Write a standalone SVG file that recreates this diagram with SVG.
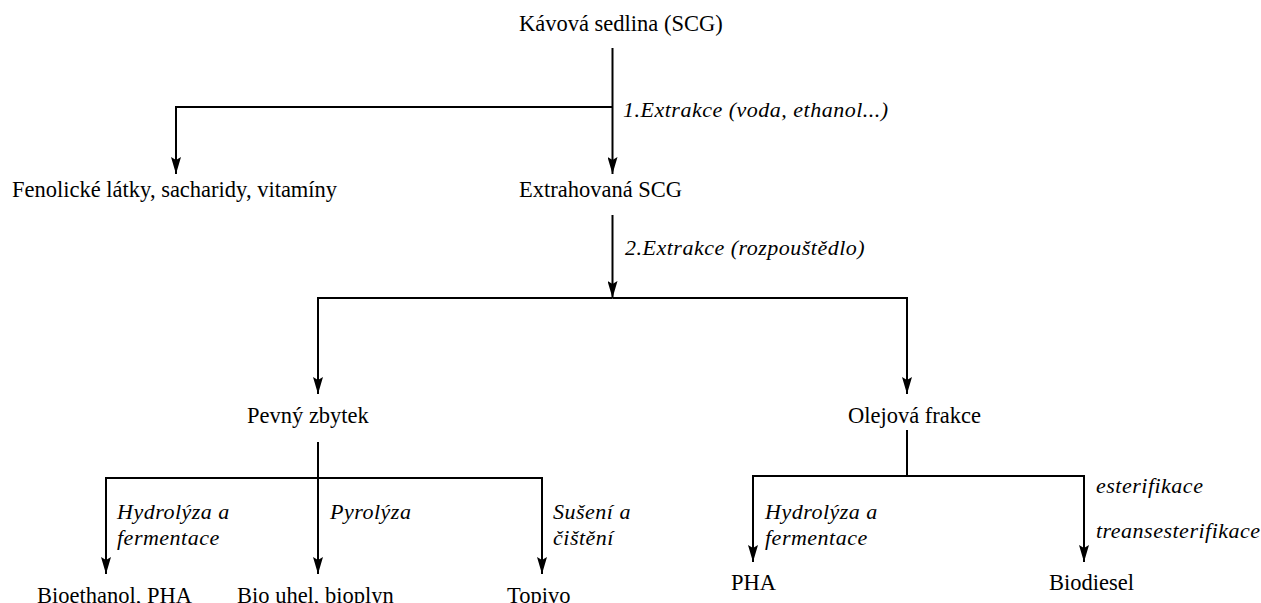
<svg xmlns="http://www.w3.org/2000/svg" width="1261" height="603" viewBox="0 0 1261 603">
<defs>
<style>
text{font-family:'Liberation Serif','Tinos','DejaVu Serif',serif;font-size:22.5px;fill:#000}
.lbl{font-size:22px;font-style:italic;letter-spacing:0.5px}
.c{fill:none;stroke:#000;stroke-width:2}
</style>
<marker id="ah" viewBox="0 0 17 10" refX="17" refY="5" markerWidth="17" markerHeight="10" markerUnits="userSpaceOnUse" orient="auto">
<path d="M0,0 L17,5 L0,10 L3,5 z" fill="#000"/>
</marker>
</defs>
<rect width="1261" height="603" fill="#fff"/>
<g id="connectors">
<path class="c" d="M612.5,48 V174" marker-end="url(#ah)"/>
<path class="c" d="M612.5,107 H176 V174" marker-end="url(#ah)"/>
<path class="c" d="M612.5,215 V298" marker-end="url(#ah)"/>
<path class="c" d="M612.5,298 H318 V394" marker-end="url(#ah)"/>
<path class="c" d="M612.5,298 H907 V394" marker-end="url(#ah)"/>
<path class="c" d="M318,442 V574" marker-end="url(#ah)"/>
<path class="c" d="M318,478 H106 V574" marker-end="url(#ah)"/>
<path class="c" d="M318,478 H542 V574" marker-end="url(#ah)"/>
<path class="c" d="M907,430 V476"/>
<path class="c" d="M907,476 H753 V562" marker-end="url(#ah)"/>
<path class="c" d="M907,476 H1084 V562" marker-end="url(#ah)"/>
<text class="lbl" x="623" y="117" font-family="Liberation Serif, serif">1.Extrakce (voda, ethanol...)</text>
<text class="lbl" x="625" y="255" font-family="Liberation Serif, serif">2.Extrakce (rozpouštědlo)</text>
<text class="lbl" x="117" y="519" font-family="Liberation Serif, serif">Hydrolýza a</text>
<text class="lbl" x="117" y="545" font-family="Liberation Serif, serif">fermentace</text>
<text class="lbl" x="330" y="519" font-family="Liberation Serif, serif">Pyrolýza</text>
<text class="lbl" x="553" y="519" font-family="Liberation Serif, serif">Sušení a</text>
<text class="lbl" x="553" y="545" font-family="Liberation Serif, serif">čištění</text>
<text class="lbl" x="765" y="519" font-family="Liberation Serif, serif">Hydrolýza a</text>
<text class="lbl" x="765" y="545" font-family="Liberation Serif, serif">fermentace</text>
<text class="lbl" x="1096" y="493" font-family="Liberation Serif, serif">esterifikace</text>
<text class="lbl" x="1096" y="538" font-family="Liberation Serif, serif">treansesterifikace</text>
</g>
<g id="n-scg"><text x="519" y="31" font-family="Liberation Serif, serif">Kávová sedlina (SCG)</text></g>
<g id="n-fenol"><text x="12" y="197" font-family="Liberation Serif, serif">Fenolické látky, sacharidy, vitamíny</text></g>
<g id="n-extr"><text x="519" y="197" font-family="Liberation Serif, serif">Extrahovaná SCG</text></g>
<g id="n-pevny"><text x="247" y="423" font-family="Liberation Serif, serif">Pevný zbytek</text></g>
<g id="n-olej"><text x="848" y="423" font-family="Liberation Serif, serif">Olejová frakce</text></g>
<g id="n-bioeth"><text x="37" y="603" font-family="Liberation Serif, serif">Bioethanol, PHA</text></g>
<g id="n-biouhel"><text x="237" y="603" font-family="Liberation Serif, serif">Bio uhel, bioplyn</text></g>
<g id="n-topivo"><text x="507" y="603" font-family="Liberation Serif, serif">Topivo</text></g>
<g id="n-pha"><text x="731" y="590" font-family="Liberation Serif, serif">PHA</text></g>
<g id="n-biodiesel"><text x="1049" y="590" font-family="Liberation Serif, serif">Biodiesel</text></g>
</svg>
